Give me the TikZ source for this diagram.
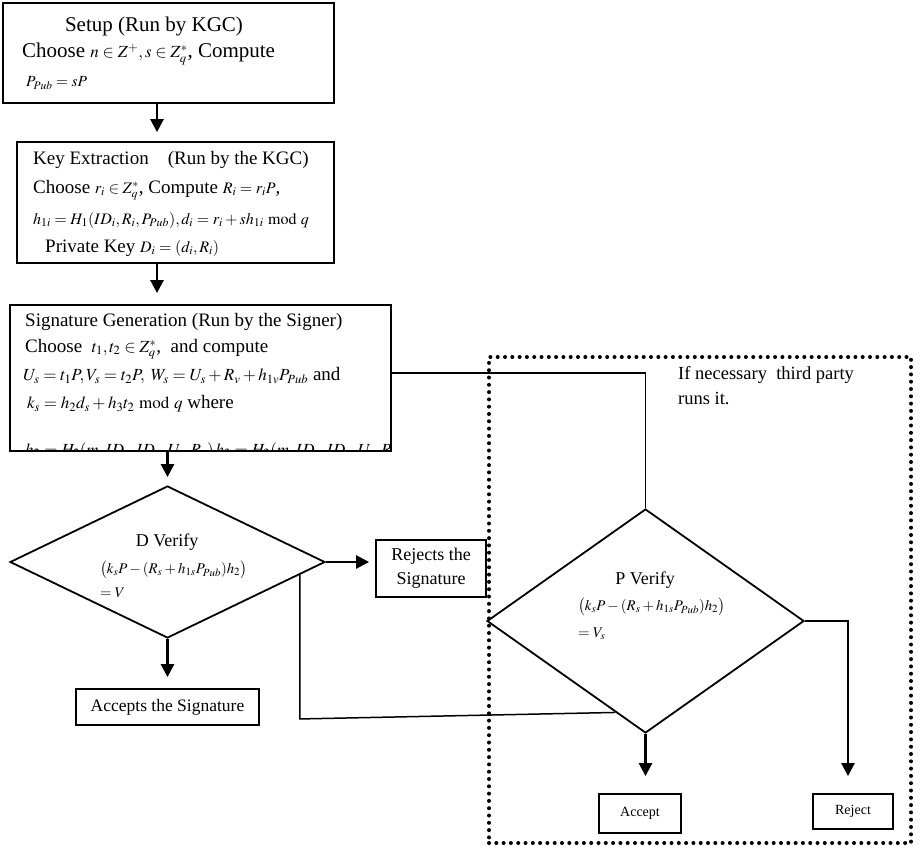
\documentclass[tikz,border=0pt]{standalone}
\usepackage{mathptmx}
\usepackage[no-math]{fontspec}
\setmainfont{Liberation Serif}
\usetikzlibrary{arrows.meta,shapes.geometric,calc}
\newcommand\fsz[2]{\fontsize{#1}{#2}\selectfont}
\newcommand\mth[2][15]{{\fontsize{#1}{#1}\selectfont$#2$}}
\tikzset{
  box/.style={draw, line width=1.8pt, inner sep=0pt, align=center},
  dia/.style={draw, diamond, line width=1.8pt, inner sep=0pt},
  dotbox/.style={draw, line width=4pt, dash pattern=on 0pt off 7.3pt, line cap=round, inner sep=0pt},
  txt/.style={inner sep=0pt, anchor=west, align=left},
  arr/.style={line width=2.6pt, -{Triangle[width=13pt,length=13pt]}},
  link/.style={line width=1.8pt},
}
\begin{document}
\begin{tikzpicture}[x=1pt,y=-1pt]
\useasboundingbox (0,0) rectangle (921,846);

% third-party area
\node[dotbox, minimum width=422pt, minimum height=486pt] (tp) at (700,600) {};

% boxes
\node[box, minimum width=331pt, minimum height=100pt] (setup) at (168.5,53) {};
\node[box, minimum width=317pt, minimum height=121pt] (keyx) at (175.5,202.5) {};
\node[box, minimum width=381pt, minimum height=146pt] (sign) at (200.5,378) {};
\node[dia, minimum width=315pt, minimum height=152pt] (dver) at (167.5,562) {};
\node[box, minimum width=110pt, minimum height=57pt, font=\fsz{18}{24}] (rej) at (431,568.5) {Rejects the\\Signature};
\node[box, minimum width=183pt, minimum height=36pt, font=\fsz{17.5}{20}] (accs) at (167.5,707) {Accepts the Signature};
\node[dia, minimum width=317pt, minimum height=224pt] (pver) at (645.5,621) {};
\node[box, minimum width=82pt, minimum height=39pt, font=\fsz{14}{16}] (acc) at (640,813.5) {Accept};
\node[box, minimum width=80pt, minimum height=35pt, font=\fsz{14}{16}] (rjt) at (853,811.5) {Reject};

% setup text
\node[txt, anchor=center, font=\fsz{21}{24}] (t1a) at (154,26) {Setup (Run by KGC)};
\node[txt, font=\fsz{21}{24}] (t1b) at (22,54) {Choose \mth[17]{n\in Z^{+},s\in Z_q^{*}}, Compute};
\node[txt] (t1c) at (26,83) {\mth[15.5]{P_{Pub}=sP}};

% key extraction text
\node[txt, font=\fsz{19}{22}] (t2a) at (33,160) {Key Extraction\quad (Run by the KGC)};
\node[txt, font=\fsz{19}{22}] (t2b) at (33,190) {Choose \mth[16]{r_i\in Z_q^{*}}, Compute \mth[16]{R_i=r_iP},};
\node[txt] (t2c) at (33,220) {\mth[16]{h_{1i}=H_1(ID_i,R_i,P_{Pub}),d_i=r_i+sh_{1i}\bmod q}};
\node[txt, font=\fsz{19}{22}] (t2d) at (45,248) {Private Key \mth[16]{D_i=(d_i,R_i)}};

% signature generation text
\node[txt, font=\fsz{19}{22}] (t3a) at (25,322) {Signature Generation (Run by the Signer)};
\node[txt, font=\fsz{19}{22}] (t3b) at (25,349) {Choose \ \mth[17]{t_1,t_2\in Z_q^{*}},\ \ and compute};
\node[txt, font=\fsz{19}{22}] (t3c) at (23,376) {\mth[17]{U_s=t_1P,V_s=t_2P,\ W_s=U_s+R_v+h_{1v}P_{Pub}} and};
\node[txt, font=\fsz{19}{22}] (t3d) at (27,404) {\mth[17]{k_s=h_2d_s+h_3t_2\bmod q} where};
\begin{scope}
  \clip ([xshift=1pt,yshift=1pt]sign.south west) rectangle ([xshift=-1pt,yshift=-1pt]sign.north east);
  \node[txt, anchor=base west] (t3e) at (25,455) {\mth[17]{h_2=H_2(m,ID_s,ID_v,U_s,R_v)\,h_3=H_3(m,ID_s,ID_v,U_s,R_v,V_s)}};
\end{scope}

% D verify text
\node[txt, anchor=center, font=\fsz{18}{20}] (t4a) at (167,542) {D Verify};
\node[txt] (t4b) at (100,570) {\mth[14.8]{\bigl(k_sP-(R_s+h_{1s}P_{Pub})h_2\bigr)}};
\node[txt] (t4c) at (100,593) {\mth[14.8]{=V}};

% P verify text
\node[txt, anchor=center, font=\fsz{18}{20}] (t5a) at (645,580) {P Verify};
\node[txt] (t5b) at (578,607) {\mth[14.8]{\bigl(k_sP-(R_s+h_{1s}P_{Pub})h_2\bigr)}};
\node[txt] (t5c) at (578,634) {\mth[14.8]{=V_s}};

% third-party note
\node[txt, anchor=north west, font=\fsz{18.5}{25}] (note) at (678,366) {If necessary\ \ third party\\runs it.};

% connectors
\draw[arr, shorten >=9pt] ([xshift=-11.5pt]setup.south) -- ([xshift=-11.5pt]setup.south |- keyx.north);
\draw[arr, shorten >=11pt] ([xshift=-18.5pt]keyx.south) -- ([xshift=-18.5pt]keyx.south |- sign.north);
\draw[arr, shorten >=8pt] (dver.north |- sign.south) -- (dver.north);
\draw[arr, shorten >=6pt] (dver.east) -- (dver.east -| rej.west);
\draw[arr, shorten >=11pt] (dver.south) -- (accs.north);

\coordinate (da) at ($(dver.east)!0.165!(dver.south)$);
\coordinate (pb) at ($(pver.west)!0.81!(pver.south)$);
\coordinate (dc) at ([yshift=-6.5pt]da |- pb);
\draw[link, line width=1.5pt] (da) -- (dc) -- (pb);

\draw[link] ([yshift=5pt]sign.east) -- ([yshift=5pt]sign.east -| pver.north) -- (pver.north);

\coordinate (rk) at ([xshift=-5pt]rjt.north);
\draw[arr, shorten >=17pt] (pver.east) -| (rk);
\draw[arr, shorten >=17pt] (pver.south) -- (pver.south |- acc.north);
\end{tikzpicture}
\end{document}
